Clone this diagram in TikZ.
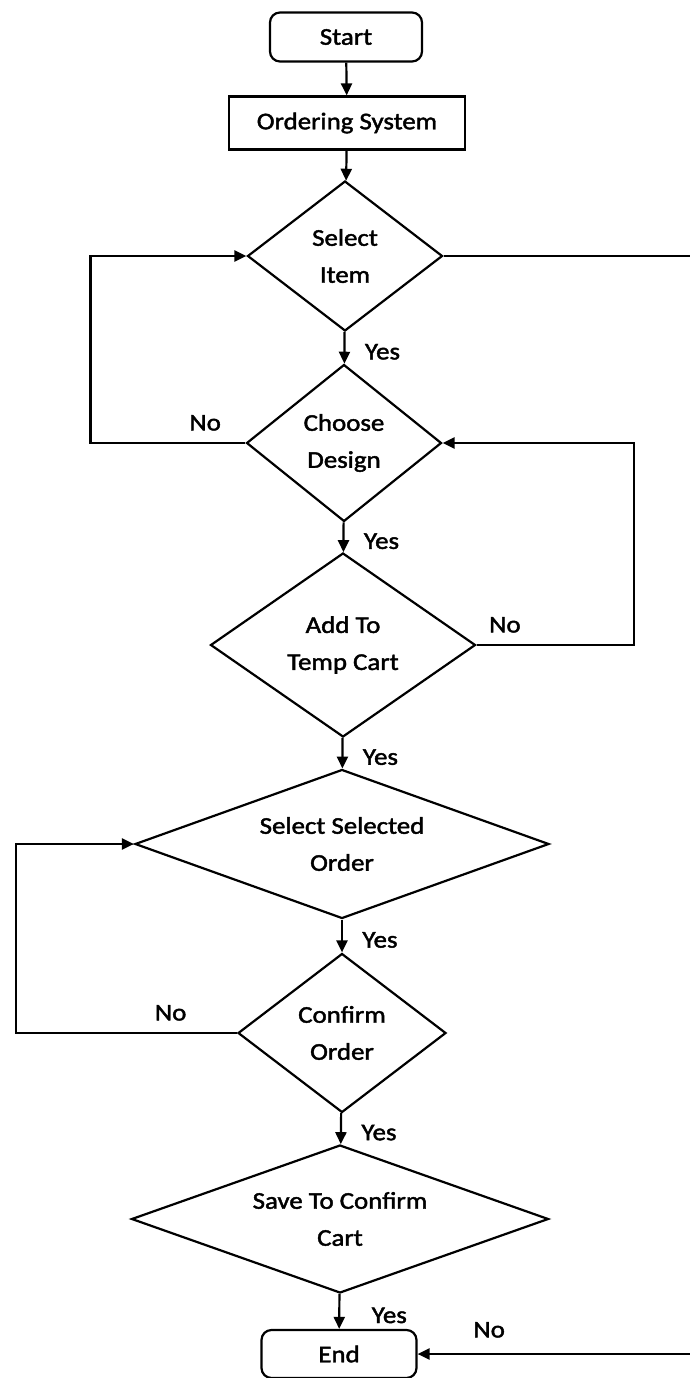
\documentclass[tikz,border=0pt]{standalone}
\usepackage{fontspec}
\setmainfont{Carlito}[FakeStretch=1.12,FakeBold=1.8]
\usetikzlibrary{shapes.geometric,arrows.meta}

\begin{document}
\begin{tikzpicture}[x=1pt,y=-1pt,line width=2.2pt,
        font=\fontsize{24}{37}\selectfont,
        term/.style={rectangle,rounded corners=10pt,draw,minimum width=152pt,minimum height=49pt},
        proc/.style={rectangle,draw,minimum width=236pt,minimum height=53pt},
        dec/.style={diamond,draw,inner sep=0pt,align=center},
        arr/.style={-{Triangle[length=12pt,width=11pt]}},
        yes/.style={right,xshift=16pt,yshift=-4pt},
        no/.style={above,yshift=8pt}]
        \useasboundingbox (0,0) rectangle (689,1378);

        \draw (346,37) node (start) [term] {Start};
        \draw (347,123) node (order) [proc] {Ordering System};
        \draw (345,256) node (item) [dec,minimum width=195pt,minimum height=150pt,aspect=1.3] {Select\\Item};
        \draw (344,443) node (design) [dec,minimum width=195pt,minimum height=157pt,aspect=1.24] {Choose\\Design};
        \draw (343,645) node (cart) [dec,minimum width=265pt,minimum height=184pt,aspect=1.44] {Add To\\Temp Cart};
        \draw (342,844) node (selorder) [dec,minimum width=414pt,minimum height=149pt,aspect=2.78] {Select Selected\\Order};
        \draw (342,1033) node (confirm) [dec,minimum width=208pt,minimum height=159pt,aspect=1.31] {Confirm\\Order};
        \draw (340,1219) node (save) [dec,minimum width=417pt,minimum height=148pt,aspect=2.82] {Save To Confirm\\Cart};
        \draw (339,1354) node (end) [term,minimum width=155pt,minimum height=48pt] {End};

        \draw [arr] (start) -- (order);
        \draw [arr] (order) -- (item);
        \draw [arr] (item) -- node [yes] {Yes} (design);
        \draw [arr] (design) -- node [yes] {Yes} (cart);
        \draw [arr] (cart) -- node [yes] {Yes} (selorder);
        \draw [arr] (selorder) -- node [yes] {Yes} (confirm);
        \draw [arr] (confirm) -- node [yes] {Yes} (save);
        \draw [arr] (save) -- node [yes,xshift=12pt] {Yes} (end);

        \draw [arr] (design.west) -- node [no,pos=0.26] {No} ++(-155,0) |- (item.west);
        \draw [arr] (cart.east) -- node [no,pos=0.18] {No} ++(157,0) |- (design.east);
        \draw [arr] (confirm.west) -- node [no,pos=0.3] {No} ++(-221,0) |- (selorder.west);
        \draw [arr] (item.east) -- ++(249,0) |- node [no,pos=0.87,yshift=4pt] {No} (end.east);
    \end{tikzpicture}
\end{document}
